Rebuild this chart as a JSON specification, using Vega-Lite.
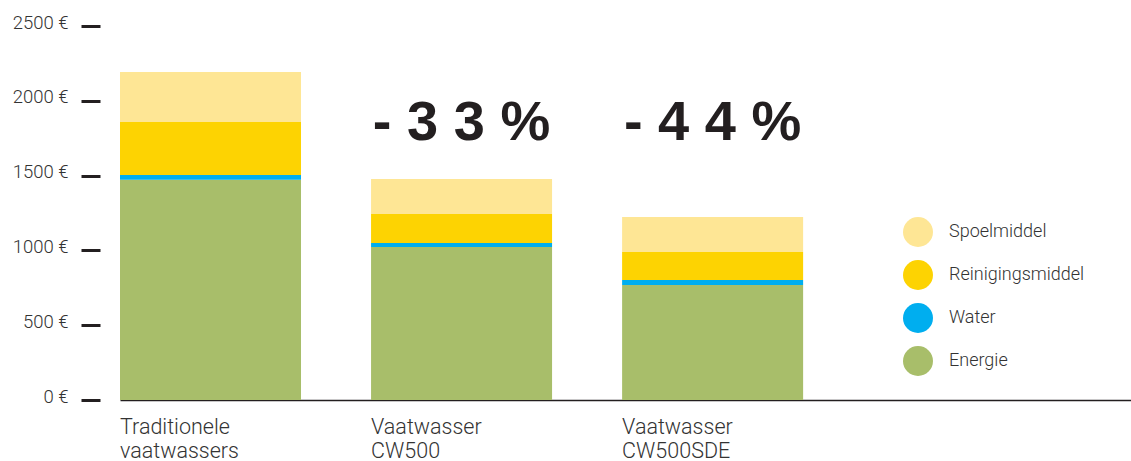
{
  "$schema": "https://vega.github.io/schema/vega-lite/v6.json",
  "width": 1011,
  "height": 374,
  "autosize": {"type": "none"},
  "padding": {"left": 120, "top": 26, "right": 0, "bottom": 61},
  "background": "white",
  "config": {"view": {"stroke": null}, "font": "Roboto"},
  "layer": [
    {
      "data": {"values": [
        {"machine": "Traditionele vaatwassers", "component": "Energie", "volgorde": 1, "kosten": 1473},
        {"machine": "Traditionele vaatwassers", "component": "Water", "volgorde": 2, "kosten": 31},
        {"machine": "Traditionele vaatwassers", "component": "Reinigingsmiddel", "volgorde": 3, "kosten": 354},
        {"machine": "Traditionele vaatwassers", "component": "Spoelmiddel", "volgorde": 4, "kosten": 334},
        {"machine": "Vaatwasser CW500", "component": "Energie", "volgorde": 1, "kosten": 1023},
        {"machine": "Vaatwasser CW500", "component": "Water", "volgorde": 2, "kosten": 26},
        {"machine": "Vaatwasser CW500", "component": "Reinigingsmiddel", "volgorde": 3, "kosten": 194},
        {"machine": "Vaatwasser CW500", "component": "Spoelmiddel", "volgorde": 4, "kosten": 234},
        {"machine": "Vaatwasser CW500SDE", "component": "Energie", "volgorde": 1, "kosten": 769},
        {"machine": "Vaatwasser CW500SDE", "component": "Water", "volgorde": 2, "kosten": 33},
        {"machine": "Vaatwasser CW500SDE", "component": "Reinigingsmiddel", "volgorde": 3, "kosten": 187},
        {"machine": "Vaatwasser CW500SDE", "component": "Spoelmiddel", "volgorde": 4, "kosten": 234}
      ]},
      "mark": {"type": "bar"},
      "encoding": {
        "x": {
          "field": "machine", "type": "nominal", "sort": null,
          "scale": {"domain": ["Traditionele vaatwassers", "Vaatwasser CW500", "Vaatwasser CW500SDE"], "paddingInner": 0.279, "paddingOuter": 0.653, "align": 0},
          "axis": {
            "title": null, "labelAngle": 0, "ticks": false,
            "domainColor": "#231f20", "domainWidth": 1.5,
            "labelAlign": "left", "labelBaseline": "top", "labelOffset": -90.5,
            "labelPadding": 16, "labelFontSize": 21.5, "labelFont": "Roboto", "labelFontWeight": 300,
            "labelColor": "#333333", "labelLineHeight": 24,
            "labelExpr": "split(datum.label, ' ')"
          }
        },
        "y": {
          "field": "kosten", "type": "quantitative", "stack": "zero",
          "scale": {"domain": [0, 2500], "nice": false},
          "axis": {
            "title": null, "values": [0, 500, 1000, 1500, 2000, 2500],
            "domain": false, "grid": false, "offset": 20,
            "tickSize": 19, "tickWidth": 3, "tickColor": "#231f20",
            "labelPadding": 13, "labelFontSize": 18.5, "labelFont": "Roboto", "labelFontWeight": 300,
            "labelColor": "#333333", "labelOffset": -4,
            "labelExpr": "datum.value + ' €'"
          }
        },
        "color": {
          "field": "component", "type": "nominal",
          "scale": {"domain": ["Spoelmiddel", "Reinigingsmiddel", "Water", "Energie"], "range": ["#FEE695", "#FDD302", "#00AEEF", "#A8BE6A"]},
          "legend": {
            "title": null, "orient": "none", "legendX": 783, "legendY": 191,
            "symbolType": "circle", "symbolSize": 900, "symbolStrokeWidth": 0, "symbolOpacity": 1,
            "labelFontSize": 18, "labelFont": "Roboto", "labelFontWeight": 300, "labelColor": "#333333",
            "labelOffset": 16, "rowPadding": 13, "padding": 0
          }
        },
        "order": {"field": "volgorde", "type": "quantitative"}
      }
    },
    {
      "data": {"values": [
        {"machine": "Vaatwasser CW500", "besparing": "- 3 3 %"},
        {"machine": "Vaatwasser CW500SDE", "besparing": "- 4 4 %"}
      ]},
      "mark": {"type": "text", "font": "Liberation Sans", "fontWeight": "bold", "fontSize": 56, "color": "#231f20", "baseline": "middle", "align": "center"},
      "encoding": {
        "x": {"field": "machine", "type": "nominal", "sort": null},
        "y": {"datum": 1850},
        "text": {"field": "besparing"}
      }
    }
  ]
}
